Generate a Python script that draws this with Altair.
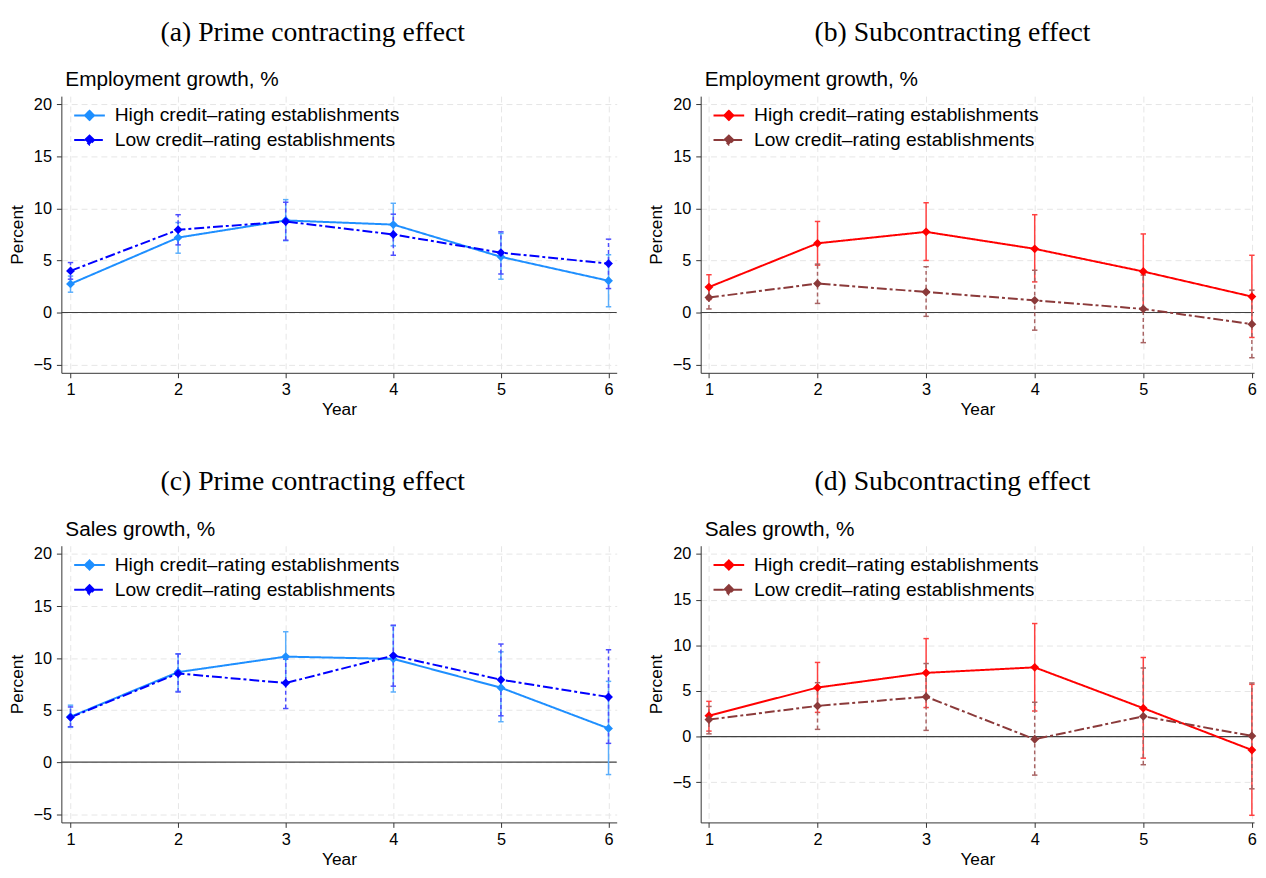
import altair as alt
import pandas as pd

years = [1, 2, 3, 4, 5, 6]
series = ["High credit\u2013rating establishments", "Low credit\u2013rating establishments"]
y_ticks = [-5, 0, 5, 10, 15, 20]

# (a) Prime contracting effect, employment growth
a_high = [2.75, 7.2, 8.85, 8.45, 5.35, 3.05]
a_high_lo = [1.95, 5.7, 6.9, 6.4, 3.2, 0.55]
a_high_hi = [3.5, 8.65, 10.85, 10.5, 7.6, 5.55]
a_low = [4.0, 7.95, 8.75, 7.5, 5.75, 4.7]
a_low_lo = [3.2, 6.5, 6.95, 5.5, 3.7, 2.3]
a_low_hi = [4.8, 9.4, 10.6, 9.45, 7.75, 7.05]

# (b) Subcontracting effect, employment growth
b_high = [2.44, 6.65, 7.75, 6.12, 3.94, 1.53]
b_high_lo = [1.25, 4.55, 5.0, 2.94, 0.35, -2.4]
b_high_hi = [3.63, 8.75, 10.55, 9.4, 7.55, 5.5]
b_low = [1.44, 2.78, 1.97, 1.17, 0.34, -1.12]
b_low_lo = [0.34, 0.87, -0.37, -1.7, -2.9, -4.35]
b_low_hi = [2.4, 4.65, 4.4, 4.06, 3.6, 2.15]

# (c) Prime contracting effect, sales growth
c_high = [4.36, 8.65, 10.14, 9.92, 7.15, 3.24]
c_high_lo = [3.34, 6.8, 7.7, 6.74, 3.88, -1.2]
c_high_hi = [5.47, 10.4, 12.53, 13.1, 10.6, 7.76]
c_low = [4.3, 8.52, 7.6, 10.24, 7.92, 6.26]
c_low_lo = [3.4, 6.74, 5.15, 7.3, 4.45, 1.8]
c_low_hi = [5.3, 10.4, 9.9, 13.16, 11.35, 10.8]

# (d) Subcontracting effect, sales growth
d_high = [2.29, 5.37, 6.98, 7.58, 3.11, -1.47]
d_high_lo = [0.6, 2.65, 3.18, 2.8, -2.36, -8.62]
d_high_hi = [3.86, 8.12, 10.73, 12.38, 8.66, 5.72]
d_low = [1.86, 3.36, 4.36, -0.29, 2.22, 0.07]
d_low_lo = [0.3, 0.79, 0.68, -4.22, -3.08, -5.72]
d_low_hi = [3.3, 5.9, 8.0, 3.76, 7.51, 5.87]

SANS = "Liberation Sans"
SERIF = "Liberation Serif"
LEG_PATH = "M-1.35,0L1.35,0M0,-0.4L0.4,0L0,0.4L-0.4,0Z"


def frame(h, hl, hh, l, ll, lh):
    rows = []
    for i, yr in enumerate(years):
        rows.append({"year": yr, "series": series[0], "est": h[i], "lo": hl[i], "hi": hh[i]})
    for i, yr in enumerate(years):
        rows.append({"year": yr, "series": series[1], "est": l[i], "lo": ll[i], "hi": lh[i]})
    return pd.DataFrame(rows)


def panel(title, subtitle, df, colors, ci_colors, xdom, ydom, width, height):
    xs = alt.Scale(domain=xdom, nice=False, zero=False)
    ys = alt.Scale(domain=ydom, nice=False, zero=False)
    x = alt.X("year:Q", scale=xs,
              axis=alt.Axis(values=years, format="d", title="Year", grid=True))

    def y(field):
        return alt.Y(field + ":Q", scale=ys,
                     axis=alt.Axis(values=y_ticks, title="Percent", grid=True))

    col_s = alt.Scale(domain=series, range=colors)
    dash_s = alt.Scale(domain=series, range=[[1, 0], [10, 3, 3, 3]])
    leg = alt.Legend(title=None, orient="none", legendX=16, legendY=7,
                     symbolType=LEG_PATH, symbolSize=529, symbolStrokeWidth=2,
                     labelFont=SANS, labelFontSize=19.5, labelLimit=500,
                     labelOffset=13, rowPadding=3, labelColor="black")

    zero_df = pd.DataFrame({"z": [0]})
    zero = alt.Chart(zero_df).mark_rule(color="#404040", strokeWidth=1.2).encode(y=y("z"))

    layers = [zero]
    for k, s in enumerate(series):
        sub = df[df["series"] == s]
        dash = [1, 0] if k == 0 else [4, 3]
        ci = alt.Chart(sub).mark_rule(color=ci_colors[k], strokeWidth=1.5,
                                      strokeDash=dash).encode(x=x, y=y("lo"), y2="hi:Q")
        cap_lo = alt.Chart(sub).mark_point(shape="stroke", size=30, color=ci_colors[k],
                                           strokeWidth=1.5, opacity=1).encode(x=x, y=y("lo"))
        cap_hi = alt.Chart(sub).mark_point(shape="stroke", size=30, color=ci_colors[k],
                                           strokeWidth=1.5, opacity=1).encode(x=x, y=y("hi"))
        layers += [ci, cap_lo, cap_hi]

    line = alt.Chart(df).mark_line(strokeWidth=2).encode(
        x=x, y=y("est"),
        color=alt.Color("series:N", scale=col_s, legend=leg),
        strokeDash=alt.StrokeDash("series:N", scale=dash_s, legend=leg))
    pts = alt.Chart(df).mark_point(filled=True, shape="diamond", size=80, opacity=1).encode(
        x=x, y=y("est"),
        color=alt.Color("series:N", scale=col_s, legend=None))
    layers += [line, pts]

    inner = alt.layer(*layers).properties(
        width=width, height=height,
        title=alt.TitleParams(subtitle, anchor="start", frame="group", font=SANS,
                              fontSize=21, fontWeight="normal", color="black",
                              dx=4, offset=6))
    outer = alt.vconcat(inner).properties(
        title=alt.TitleParams(title, anchor="middle", font=SERIF, fontSize=28,
                              fontWeight="normal", color="black", offset=23))
    return outer.resolve_scale(color="independent", strokeDash="independent")


blue_cols = ["#1e8fff", "#0000ff"]
blue_ci = ["#5aaefc", "#4d4dff"]
red_cols = ["#ff0000", "#8b3a3a"]
red_ci = ["#ff4040", "#a86363"]

W1, W2, H = 562, 560, 280
XA = [0.915, 6.076]
XB = [0.924, 6.02]

pa = panel("(a) Prime contracting effect", "Employment growth, %",
           frame(a_high, a_high_lo, a_high_hi, a_low, a_low_lo, a_low_hi),
           blue_cols, blue_ci, XA, [-5.8, 20.8], W1, H)
pb = panel("(b) Subcontracting effect", "Employment growth, %",
           frame(b_high, b_high_lo, b_high_hi, b_low, b_low_lo, b_low_hi),
           red_cols, red_ci, XB, [-5.8, 20.8], W2, H)
pc = panel("(c) Prime contracting effect", "Sales growth, %",
           frame(c_high, c_high_lo, c_high_hi, c_low, c_low_lo, c_low_hi),
           blue_cols, blue_ci, XA, [-5.8, 20.8], W1, H)
pd_ = panel("(d) Subcontracting effect", "Sales growth, %",
            frame(d_high, d_high_lo, d_high_hi, d_low, d_low_lo, d_low_hi),
            red_cols, red_ci, XB, [-9.4, 20.9], W2, H)

res = dict(color="independent", strokeDash="independent")
row1 = alt.hconcat(pa, pb, spacing=30).resolve_scale(**res)
row2 = alt.hconcat(pc, pd_, spacing=30).resolve_scale(**res)

chart = alt.vconcat(row1, row2, spacing=51).resolve_scale(**res).properties(
    padding={"left": 0, "right": 0, "top": 6, "bottom": 0}, background="white"
).configure_view(stroke=None).configure_axis(
    labelFont=SANS, labelFontSize=16.5, labelColor="black",
    titleFont=SANS, titleFontSize=17.5, titleFontWeight="normal", titleColor="black",
    domainColor="#333333", tickColor="#333333", tickSize=5, labelPadding=4,
    gridColor="#e6e6e6", gridDash=[6, 4], gridWidth=1
).configure_axisY(titlePadding=7, labelPadding=5).configure_axisX(titlePadding=3)

chart.save("out.html", embed_options={"renderer": "svg", "actions": False})
